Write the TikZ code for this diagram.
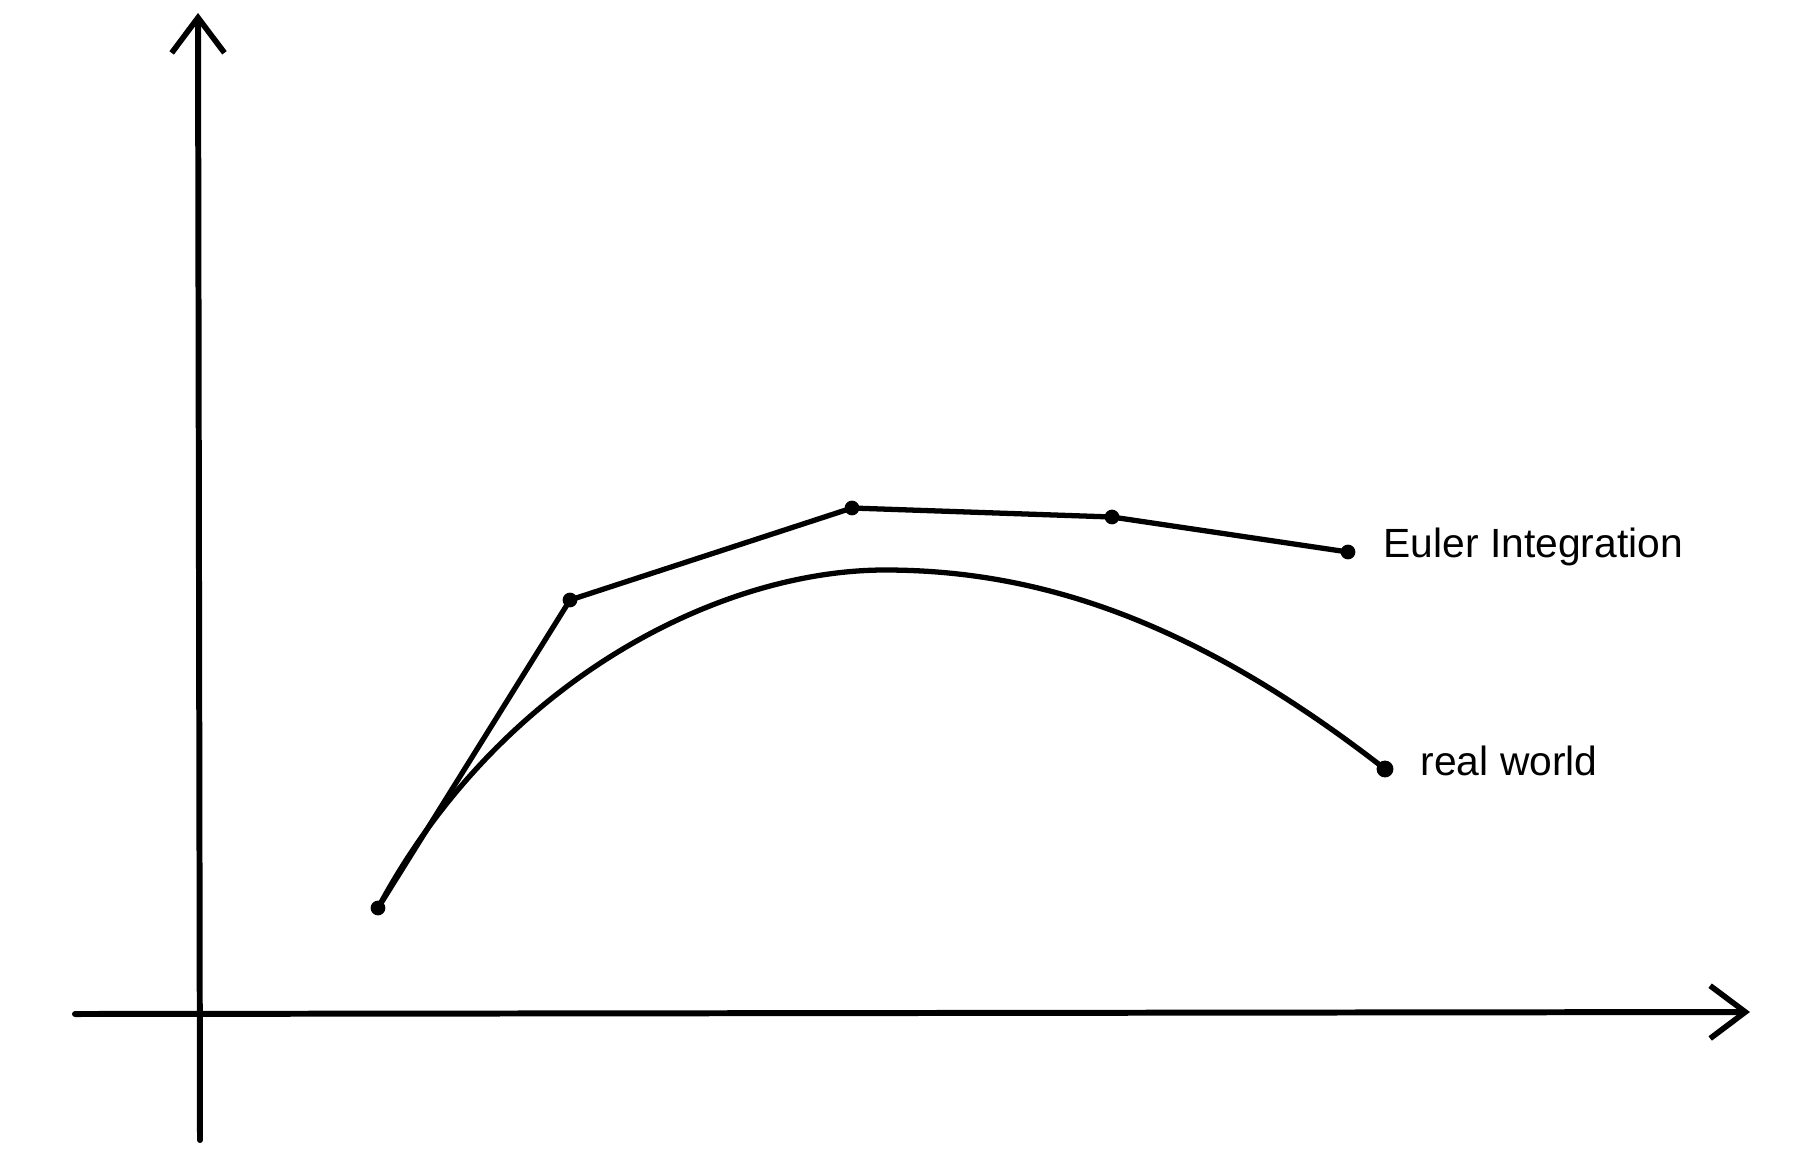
\documentclass[tikz,border=0pt]{standalone}
\usepackage{fontspec}
\setmainfont{Liberation Sans}
\usetikzlibrary{arrows.meta}
\begin{document}
\begin{tikzpicture}[x=0.01cm,y=-0.01cm,
  axis/.style={line width=1.7pt,line cap=round,-{Straight Barb[length=10pt,width=15pt,line width=1.6pt]}},
  curve/.style={line width=1.5pt,line join=round},
  dot/.style={circle,fill=black,inner sep=0pt,minimum size=4.2pt},
  bigdot/.style={circle,fill=black,inner sep=0pt,minimum size=4.8pt},
  lbl/.style={inner sep=0pt,anchor=base west,font=\fontsize{11.6}{14}\selectfont}]
\useasboundingbox (0,0) rectangle (1800,1154);
% axes
\coordinate (yb) at (200,1140);
\coordinate (yt) at (198,13);
\coordinate (xl) at (75,1014);
\coordinate (xr) at (1750,1012);
\draw[axis] (yb) -- (yt);
\draw[axis] (xl) -- (xr);
% points
\node[dot] (e0) at (378,908) {};
\node[dot] (e1) at (570,600) {};
\node[dot] (e2) at (852,508) {};
\node[dot] (e3) at (1112,517) {};
\node[dot] (e4) at (1348,552) {};
\node[bigdot] (rw) at (1385,769) {};
\coordinate (pk) at (885,570);
% Euler polyline
\draw[curve] (e0.center) -- (e1.center) -- (e2.center) -- (e3.center) -- (e4.center);
% real world curve
\draw[curve] (e0.center) .. controls (500,680) and (720,570) .. (pk)
  .. controls (1050,570) and (1205,629) .. (rw.center);
% labels
\node[lbl] (leuler) at (1383,557) {Euler Integration};
\node[lbl] (lreal) at (1420,775) {real world};
\end{tikzpicture}
\end{document}
